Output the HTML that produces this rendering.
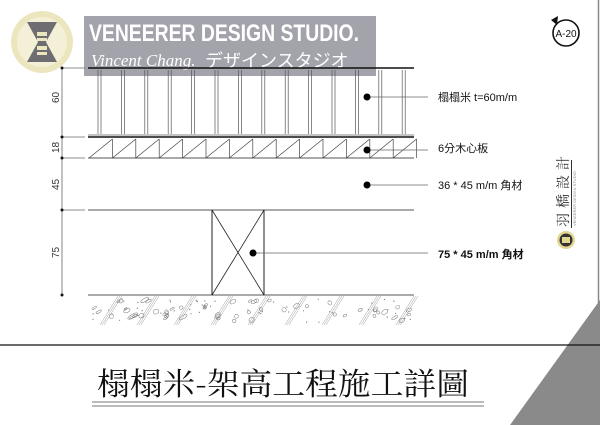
<!DOCTYPE html>
<html><head><meta charset="utf-8"><style>
html,body{margin:0;padding:0;background:#fff}
svg{display:block}
</style></head><body>
<svg id="s" width="600" height="425" viewBox="0 0 600 425" xmlns="http://www.w3.org/2000/svg" font-family="Liberation Sans, Noto Sans CJK TC, sans-serif">
<rect width="600" height="425" fill="#fff"/>
<circle cx="42" cy="42" r="31" fill="#ece6bf"/>
<circle cx="42" cy="42" r="25" fill="#f4f0d8"/>
<polygon points="27,22 57,22 46,42 57,62 27,62 38,42" fill="#6e6e72"/>
<rect x="37" y="32" width="10" height="4" fill="#ece6bf"/>
<rect x="37" y="38" width="10" height="3" fill="#ece6bf"/>
<rect x="37" y="46" width="10" height="4" fill="#ece6bf"/>
<rect x="37" y="52" width="10" height="3" fill="#ece6bf"/>
<rect x="84" y="16" width="292" height="60" fill="#a3a3ab"/>
<text x="89" y="41" font-size="24" font-weight="bold" fill="#fff" textLength="270" lengthAdjust="spacingAndGlyphs">VENEERER DESIGN STUDIO.</text>
<text x="91" y="66" font-size="17" font-style="italic" font-family="Liberation Serif, serif" fill="#fff">Vincent Chang.</text>
<text x="205" y="67" font-size="18" fill="#fff" font-family="Noto Sans CJK JP, sans-serif">デザインスタジオ</text>
<circle cx="566" cy="33" r="13" fill="none" stroke="#111" stroke-width="1.6"/>
<polygon points="551,20 558,16 557,25" fill="#111"/>
<text x="566" y="37" font-size="10" text-anchor="middle" fill="#111">A-20</text>
<line x1="598.5" y1="0" x2="598.5" y2="425" stroke="#888" stroke-width="1.5"/>
<polygon points="600,300 600,425 510,425" fill="#8a8a8a"/>
<line x1="0" y1="345" x2="600" y2="345" stroke="#111" stroke-width="1.2"/>
<text transform="translate(568,227) rotate(-90)" font-size="14" fill="#333" font-family="Noto Serif CJK SC, serif" letter-spacing="5">羽橋設計</text>
<line x1="571.5" y1="160" x2="571.5" y2="228" stroke="#333" stroke-width="1"/>
<text transform="translate(576,226) rotate(-90)" font-size="4" fill="#888">VENEERER DESIGN STUDIO</text>
<circle cx="566" cy="240" r="9" fill="#e2d690"/>
<circle cx="566" cy="240" r="6.5" fill="#333"/>
<rect x="562" y="237" width="8" height="6" fill="#e2d690"/>
<g id="draw" stroke="#222" fill="none"></g>
<g stroke="#666" stroke-width="0.8">
<line x1="62" y1="68" x2="62" y2="295"/>
<line x1="62" y1="68" x2="85" y2="68"/>
<line x1="62" y1="137" x2="85" y2="137"/>
<line x1="62" y1="158" x2="85" y2="158"/>
<line x1="62" y1="210" x2="85" y2="210"/>
</g>
<g fill="#111"><circle cx="62" cy="68" r="1.5"/><circle cx="62" cy="137" r="1.5"/><circle cx="62" cy="158" r="1.5"/><circle cx="62" cy="210" r="1.5"/><circle cx="62" cy="295" r="1.5"/></g>
<g font-size="10" fill="#333">
<text transform="translate(59,103) rotate(-90)">60</text>
<text transform="translate(59,153) rotate(-90)">18</text>
<text transform="translate(59,190) rotate(-90)">45</text>
<text transform="translate(59,258) rotate(-90)">75</text>
</g>
<g stroke="#666" stroke-width="0.8"><line x1="367" y1="97" x2="428" y2="97"/><line x1="367" y1="150" x2="428" y2="150"/><line x1="367" y1="185" x2="428" y2="185"/><line x1="253" y1="253" x2="428" y2="253"/></g>
<g fill="#000"><circle cx="367" cy="97" r="3.5"/><circle cx="367" cy="150" r="3.5"/><circle cx="367" cy="185" r="3.5"/><circle cx="253" cy="253" r="3.5"/></g>
<g font-size="11" fill="#111">
<text x="438" y="101">榻榻米 t=60m/m</text>
<text x="438" y="152">6分木心板</text>
<text x="438" y="189">36 * 45 m/m 角材</text>
<text x="438" y="258" font-weight="bold">75 * 45 m/m 角材</text>
</g>
<text x="97" y="395" font-size="31" fill="#111" font-family="Noto Serif CJK TC, serif" textLength="372" lengthAdjust="spacingAndGlyphs">榻榻米-架高工程施工詳圖</text>
<line x1="92" y1="402" x2="484" y2="402" stroke="#777" stroke-width="1"/>
<line x1="92" y1="406" x2="484" y2="406" stroke="#777" stroke-width="1"/>
</svg>
<script>
var g=document.getElementById('draw'),h='';
function L(a,b,c,d,w,col){h+='<line x1="'+a+'" y1="'+b+'" x2="'+c+'" y2="'+d+'" stroke-width="'+(w||0.8)+'"'+(col?' stroke="'+col+'"':'')+'/>';}
L(88,68,414,68,1.6,'#111');
L(88,135,414,135,1,'#888');L(88,137,414,137,1.6,'#111');L(88,158,414,158,1,'#555');
L(88,210,414,210,1,'#555');L(88,295,414,295,1,'#555');
for(var i=0;i<14;i++){var x=98+i*23.4;L(x,70,x,134,0.7,'#555');L(x+3,70,x+3,134,0.7,'#555');}
for(var i=0;i<14;i++){var x=89+i*23.4;L(x,158,x+23.4,139,0.7,'#444');L(x+23.4,139,x+23.4,158,0.7,'#444');}
L(212,210,212,295,1,'#222');L(264,210,264,295,1,'#222');L(212,210,264,295,0.8);L(264,210,212,295,0.8);
var seed=7;function r(){seed=(seed*9301+49297)%233280;return seed/233280;}
for(var i=0;i<55;i++){var x=92+r()*320,y=300+r()*22,rx=1.3+r()*(r()<0.15?5:2),ry=0.9+r()*1.5;h+='<ellipse cx="'+x.toFixed(1)+'" cy="'+y.toFixed(1)+'" rx="'+rx.toFixed(1)+'" ry="'+ry.toFixed(1)+'" transform="rotate(-30 '+x.toFixed(1)+' '+y.toFixed(1)+')" stroke-width="0.5" stroke="#777"/>';}
for(var i=0;i<50;i++){var x=92+r()*320,y=299+r()*24;h+='<circle cx="'+x.toFixed(1)+'" cy="'+y.toFixed(1)+'" r="0.6" fill="#777" stroke="none"/>';}
for(var k=0;k<9;k++){var x=100+k*37;for(var j=0;j<3;j++){L(x+j*2,325,x+j*2+18,296,0.4,'#888');}}
g.innerHTML=h;
</script>
</body></html>
